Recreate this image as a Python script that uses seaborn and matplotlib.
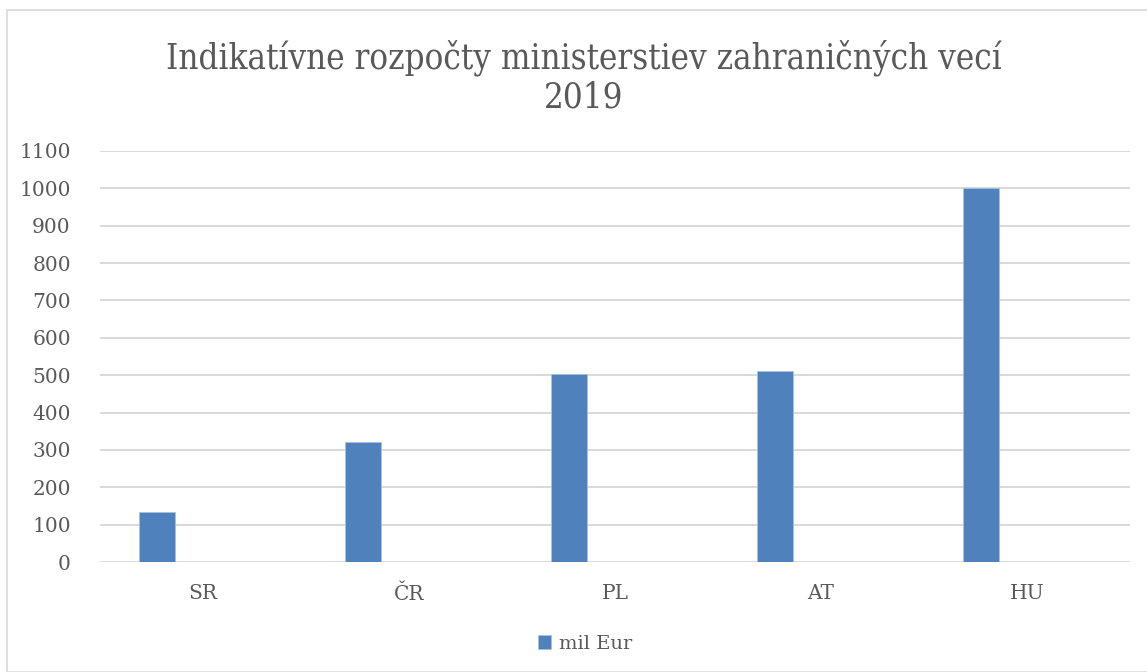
import matplotlib
matplotlib.use('Agg')
import matplotlib.pyplot as plt
import seaborn as sns
from matplotlib.patches import Rectangle

# Data
countries = ['SR', 'ČR', 'PL', 'AT', 'HU']
budget = [134, 321, 504, 510, 1000]
series_name = 'mil Eur'
yticks = list(range(0, 1101, 100))

bar_color = '#4f81bd'
text_color = '#595959'
grid_color = '#d9d9d9'

sns.set_theme(style='white')
plt.rcParams['font.family'] = ['DejaVu Serif', 'DejaVu Sans']

fig = plt.figure(figsize=(11.47, 6.72), dpi=100)
ax = fig.add_axes([100 / 1147, 1 - 562 / 672, 1030 / 1147, 411 / 672])

sns.barplot(x=countries, y=budget, color=bar_color, width=0.175,
            label=series_name, ax=ax, edgecolor='#a9c1e0', linewidth=0.6,
            saturation=1)

# bars sit left of the category centre, like the original
for p in ax.patches:
    p.set_x(p.get_x() - 0.222)

ax.set_xlim(-0.5, len(countries) - 0.5)
ax.set_ylim(0, 1100)
ax.set_yticks(yticks)
ax.yaxis.grid(True, color=grid_color, linewidth=1.4)
ax.set_axisbelow(True)
for s in ax.spines.values():
    s.set_visible(False)
ax.tick_params(axis='y', length=0, pad=21, labelsize=14.5, labelcolor=text_color)
ax.tick_params(axis='x', length=0, pad=16, labelsize=14.5, labelcolor=text_color)
ax.set_xlabel('')
ax.set_ylabel('')

fig.text(584 / 1147, 1 - 77 / 672,
         'Indikatívne rozpočty ministerstiev zahraničných vecí\n2019',
         ha='center', va='center', fontsize=25, color=text_color,
         fontstretch='condensed', linespacing=1.2)

ax.legend(loc='center', bbox_to_anchor=(585 / 1147, 1 - 644 / 672),
          bbox_transform=fig.transFigure, frameon=False, fontsize=14,
          handlelength=0.7, handleheight=0.7, handletextpad=0.4,
          labelcolor=text_color)

fig.patches.append(Rectangle((7 / 1147, 0), 1.2, 1 - 10 / 672,
                             transform=fig.transFigure, fill=False,
                             edgecolor='#d9d9d9', linewidth=1.2))

fig.savefig('out.png', dpi=100)
